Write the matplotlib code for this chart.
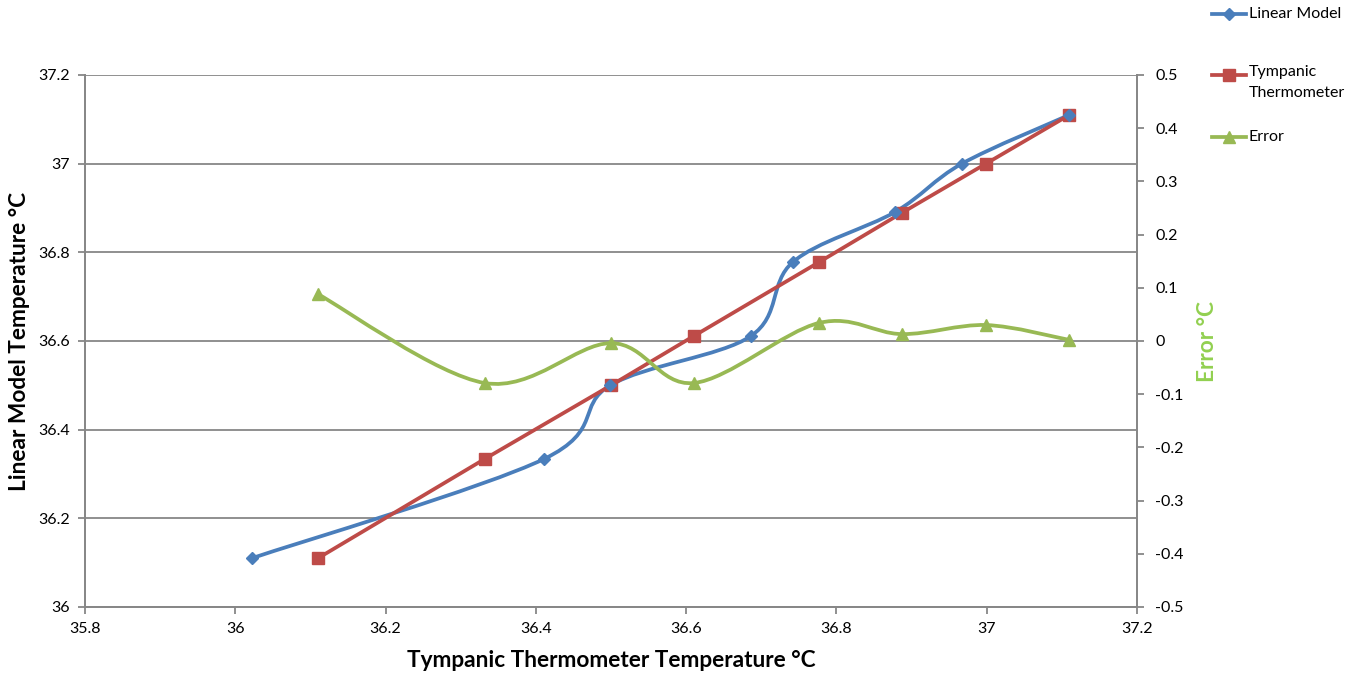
import matplotlib
matplotlib.use("Agg")
import matplotlib.pyplot as plt
from matplotlib.path import Path
from matplotlib.patches import PathPatch
from matplotlib.lines import Line2D
import numpy as np

plt.rcParams['font.family'] = ['Lato', 'DejaVu Sans']

# Data
linear_x = [36.022, 36.411, 36.499, 36.686, 36.742, 36.878, 36.967, 37.11]
linear_y = [36.11, 36.334, 36.50, 36.611, 36.778, 36.891, 37.00, 37.11]
tymp_x = [36.11, 36.332, 36.50, 36.61, 36.777, 36.887, 36.999, 37.11]
tymp_y = [36.11, 36.334, 36.50, 36.611, 36.778, 36.889, 37.00, 37.11]
error_x = tymp_x
error_y = [0.088, -0.079, -0.004, -0.079, 0.034, 0.013, 0.030, 0.002]

x_ticks = [35.8, 36, 36.2, 36.4, 36.6, 36.8, 37, 37.2]
y_ticks = [36, 36.2, 36.4, 36.6, 36.8, 37, 37.2]
e_ticks = [-0.5, -0.4, -0.3, -0.2, -0.1, 0, 0.1, 0.2, 0.3, 0.4, 0.5]

BLUE = '#4A7EBB'
RED = '#BE4B48'
GREEN = '#98B954'
LABEL_GREEN = '#92D050'
GRID = '#878787'


def smooth_path(xs, ys, tension=1/6):
    xs = np.asarray(xs, float)
    ys = np.asarray(ys, float)
    pts = np.column_stack([xs, ys])
    n = len(pts)
    verts = [pts[0]]
    codes = [Path.MOVETO]
    for i in range(n - 1):
        p0 = pts[i - 1] if i > 0 else pts[i]
        p1 = pts[i]
        p2 = pts[i + 1]
        p3 = pts[i + 2] if i + 2 < n else pts[i + 1]
        c1 = p1 + (p2 - p0) * tension
        c2 = p2 - (p3 - p1) * tension
        verts += [c1, c2, p2]
        codes += [Path.CURVE4] * 3
    return Path(verts, codes)


fig = plt.figure(figsize=(13.5, 6.75), dpi=100)
ax = fig.add_axes([85/1350, 68/675, (1137-85)/1350, (607-75)/675])
ax2 = ax.twinx()

# Blue smoothed
ax.add_patch(PathPatch(smooth_path(linear_x, linear_y), fill=False, edgecolor=BLUE,
                       lw=2.7, capstyle='round', joinstyle='round', zorder=3))
ax.plot(linear_x, linear_y, ls='none', marker='D', ms=6.5, color=BLUE, zorder=4)
# Red straight
ax.plot(tymp_x, tymp_y, color=RED, lw=2.7, marker='s', ms=8.5, zorder=3)
# Green smoothed on twin
ax2.add_patch(PathPatch(smooth_path(error_x, error_y), fill=False, edgecolor=GREEN,
                        lw=2.7, capstyle='round', joinstyle='round', zorder=3))
ax2.plot(error_x, error_y, ls='none', marker='^', ms=8.5, color=GREEN, zorder=4)

ax.set_xlim(35.8, 37.2)
ax.set_ylim(36, 37.2)
ax2.set_ylim(-0.5, 0.5)
ax.set_xticks(x_ticks)
ax.set_xticklabels([f"{v:g}" for v in x_ticks])
ax.set_yticks(y_ticks)
ax.set_yticklabels([f"{v:g}" for v in y_ticks])
ax2.set_yticks(e_ticks)
ax2.set_yticklabels([f"{v:g}" for v in e_ticks])

ax.grid(axis='y', color=GRID, lw=1.3)
ax.set_axisbelow(True)
for a in (ax, ax2):
    a.spines['top'].set_visible(False)
    for s in ('left', 'right', 'bottom'):
        a.spines[s].set_color(GRID)
        a.spines[s].set_linewidth(1.3)
ax.tick_params(axis='both', direction='out', length=5, width=1.3, color=GRID,
               labelsize=11.5, labelcolor='black', pad=6)
ax2.tick_params(axis='y', direction='out', length=5, width=1.3, color=GRID,
                labelsize=11.5, labelcolor='black', pad=8)

ax.set_xlabel('Tympanic Thermometer Temperature °C', fontsize=16.3, fontweight='bold', labelpad=10)
ax.set_ylabel('Linear Model Temperature °C', fontsize=16.3, fontweight='bold', labelpad=6)
ax2.set_ylabel('Error °C', fontsize=16.3, fontweight='bold', color=LABEL_GREEN, labelpad=10)

# Legend (manual, figure coords)
entries = [(BLUE, 'D', 6.5, 'Linear Model', 14),
           (RED, 's', 8.5, 'Tympanic\nThermometer', 75),
           (GREEN, '^', 8.5, 'Error', 137)]
for color, m, ms, label, ypx in entries:
    yf = 1 - ypx / 675
    fig.add_artist(Line2D([1212/1350, 1246/1350], [yf, yf], color=color, lw=2.7,
                          transform=fig.transFigure))
    fig.add_artist(Line2D([1229/1350], [yf], color=color, marker=m, ms=ms,
                          transform=fig.transFigure))
    if '\n' in label:
        fig.text(1249/1350, yf + 10/675, label, fontsize=11.5, va='top', ha='left',
                 linespacing=1.6)
    else:
        fig.text(1249/1350, yf, label, fontsize=11.5, va='center', ha='left')

fig.savefig('out.png', dpi=100)
